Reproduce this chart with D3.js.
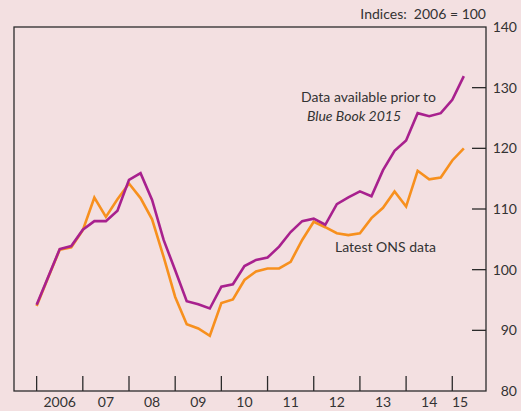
<!DOCTYPE html>
<html>
<head>
<meta charset="utf-8">
<script src="https://cdn.jsdelivr.net/npm/d3@7"></script>
<style>
  body { margin: 0; background: #f3e0e1; }
  svg { display: block; }
  text { font-family: Lato, "Noto Sans", sans-serif; fill: #333; }
</style>
</head>
<body>
<div class="chart"></div>
<script>
// quarterly, 2006 Q1 to 2015 Q2
var startYear = 2006;

var priorData = [
  94.2, 98.8, 103.4, 103.9, 106.6, 108.0, 108.0, 109.7,
  114.8, 115.9, 111.5, 104.9, 99.9, 94.8, 94.3, 93.6,
  97.2, 97.6, 100.6, 101.6, 102.0, 103.8, 106.2, 108.0,
  108.4, 107.4, 110.8, 111.9, 112.9, 112.1, 116.4, 119.6,
  121.3, 125.8, 125.3, 125.8, 128.0, 131.9
];

var latestData = [
  94.0, 98.7, 103.3, 103.7, 106.5, 111.9, 108.7, 111.6,
  114.2, 111.8, 108.3, 102.1, 95.5, 91.0, 90.3, 89.1,
  94.5, 95.1, 98.3, 99.7, 100.2, 100.2, 101.3, 104.9,
  107.9, 107.0, 106.0, 105.7, 106.0, 108.5, 110.2, 112.9,
  110.4, 116.3, 114.9, 115.2, 118.0, 120.0
];

var yearTicks = [2006, 2007, 2008, 2009, 2010, 2011, 2012, 2013, 2014, 2015];
var yearLabels = ["2006", "07", "08", "09", "10", "11", "12", "13", "14", "15"];
var yTicks = [80, 90, 100, 110, 120, 130, 140];

var svgWidth = 521;
var svgHeight = 411;

var margin = { top: 27, right: 35, bottom: 20, left: 14 };
var width = svgWidth - margin.left - margin.right;
var height = svgHeight - margin.top - margin.bottom;

var svg = d3.select(".chart")
  .append("svg")
  .attr("width", svgWidth)
  .attr("height", svgHeight);

var g = svg.append("g")
  .attr("transform", `translate(${margin.left}, ${margin.top})`);

var xScale = d3.scaleLinear()
  .domain([2005.51, 2015.73])
  .range([0, width]);

var yScale = d3.scaleLinear()
  .domain([80, 140])
  .range([height, 0]);

function toPoints(values) {
  return values.map(function(v, i) {
    return { x: startYear + i / 4, y: v };
  });
}

// frame
g.append("rect")
  .attr("x", 0)
  .attr("y", 0)
  .attr("width", width)
  .attr("height", height)
  .attr("fill", "none")
  .attr("stroke", "#2b2b2b")
  .attr("stroke-width", 1.3);

// year ticks (inside, from bottom)
g.selectAll(".xtick")
  .data(yearTicks)
  .enter()
  .append("line")
  .attr("x1", function(d) { return xScale(d); })
  .attr("x2", function(d) { return xScale(d); })
  .attr("y1", height)
  .attr("y2", height - 15)
  .attr("stroke", "#2b2b2b")
  .attr("stroke-width", 1.3);

g.selectAll(".xlabel")
  .data(yearLabels)
  .enter()
  .append("text")
  .text(function(d) { return d; })
  .attr("x", function(d, i) {
    var pos = i < yearLabels.length - 1 ? yearTicks[i] + 0.5 : yearTicks[i] + 0.17;
    return xScale(pos);
  })
  .attr("y", height + 16)
  .attr("text-anchor", "middle")
  .attr("font-size", 14);

// y ticks (inside, on right)
g.selectAll(".ytick")
  .data(yTicks.filter(function(d) { return d > 80 && d < 140; }))
  .enter()
  .append("line")
  .attr("x1", width - 14)
  .attr("x2", width)
  .attr("y1", function(d) { return yScale(d); })
  .attr("y2", function(d) { return yScale(d); })
  .attr("stroke", "#2b2b2b")
  .attr("stroke-width", 1.3);

g.selectAll(".ylabel")
  .data(yTicks)
  .enter()
  .append("text")
  .text(function(d) { return d; })
  .attr("x", width + 31)
  .attr("y", function(d) { return yScale(d) + 5; })
  .attr("text-anchor", "end")
  .attr("font-size", 14);

svg.append("text")
  .text("Indices:  2006 = 100")
  .attr("x", margin.left + width)
  .attr("y", 19)
  .attr("text-anchor", "end")
  .attr("font-size", 14)
  .style("white-space", "pre");

var line = d3.line()
  .x(function(d) { return xScale(d.x); })
  .y(function(d) { return yScale(d.y); });

g.append("path")
  .datum(toPoints(latestData))
  .attr("d", line)
  .attr("fill", "none")
  .attr("stroke", "#f7901e")
  .attr("stroke-width", 2.6)
  .attr("stroke-linejoin", "miter");

g.append("path")
  .datum(toPoints(priorData))
  .attr("d", line)
  .attr("fill", "none")
  .attr("stroke", "#a8218e")
  .attr("stroke-width", 2.6)
  .attr("stroke-linejoin", "miter");

// series labels
var priorLabel = svg.append("text")
  .attr("x", 301)
  .attr("y", 102)
  .attr("font-size", 14);
priorLabel.append("tspan").text("Data available prior to");
priorLabel.append("tspan")
  .attr("x", 307)
  .attr("dy", 18.5)
  .attr("font-style", "italic")
  .text("Blue Book 2015");

svg.append("text")
  .text("Latest ONS data")
  .attr("x", 335)
  .attr("y", 252)
  .attr("font-size", 14);
</script>
</body>
</html>
